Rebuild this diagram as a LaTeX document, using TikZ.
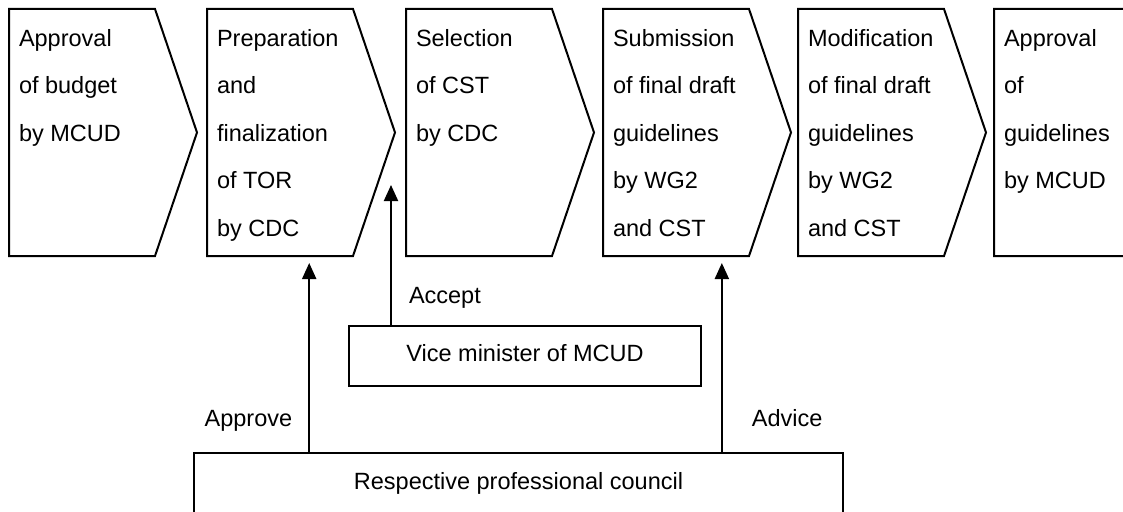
\documentclass[tikz,border=0pt]{standalone}
\usepackage{fontspec}
\setmainfont{Liberation Sans}
\usetikzlibrary{arrows.meta,calc}
\begin{document}
\begin{tikzpicture}[x=1pt,y=-1pt,
  line width=2pt,
  body/.style={anchor=north west, minimum width=146pt, minimum height=247pt, inner sep=0pt, outer sep=0pt},
  chev/.style={draw=black, line join=miter},
  steptxt/.style={anchor=north west, align=left, inner sep=0pt, font=\fontsize{23.5}{47.5}\selectfont},
  boxed/.style={draw=black, inner sep=0pt, outer sep=0pt, font=\fontsize{23.5}{28}\selectfont, text height=17pt},
  lbl/.style={inner sep=0pt, font=\fontsize{23.5}{28}\selectfont},
  arr/.style={-{Triangle[length=16pt,width=14pt]}, line width=2pt}]
\useasboundingbox (0,0) rectangle (1123,511);
\clip (0,0) rectangle (1123,511);
% chevron bodies
\foreach \i/\x in {1/9,2/207,3/406,4/603,5/798,6/994}{
  \node[body] (c\i) at (\x,9) {};
  \draw[chev] (c\i.north west) -- (c\i.north east) -- ($(c\i.east)+(42,0)$) -- (c\i.south east) -- (c\i.south west) -- cycle;
}
% texts
\node[steptxt] (t1) at ($(c1.north west)+(9,16)$) {\rule{0pt}{20pt}Approval\\of budget\\by MCUD};
\node[steptxt] (t2) at ($(c2.north west)+(9,16)$) {\rule{0pt}{20pt}Preparation\\and\\finalization\\of TOR\\by CDC};
\node[steptxt] (t3) at ($(c3.north west)+(9,16)$) {\rule{0pt}{20pt}Selection\\of CST\\by CDC};
\node[steptxt] (t4) at ($(c4.north west)+(9,16)$) {\rule{0pt}{20pt}Submission\\of final draft\\guidelines\\by WG2\\and CST};
\node[steptxt] (t5) at ($(c5.north west)+(9,16)$) {\rule{0pt}{20pt}Modification\\of final draft\\guidelines\\by WG2\\and CST};
\node[steptxt] (t6) at ($(c6.north west)+(9,16)$) {\rule{0pt}{20pt}Approval\\of\\guidelines\\by MCUD};
% bottom boxes
\node[boxed, minimum width=352pt, minimum height=60pt, text depth=7pt] (vice) at (525,356) {Vice minister of MCUD};
\node[boxed, minimum width=649pt, minimum height=72pt, text depth=17pt] (council) at (518.5,489) {Respective professional council};
% connectors
\coordinate (a1) at ($(c2.south west)!0.70!(c2.south east)$);
\coordinate (a2) at ($(c4.south west)!0.814!(c4.south east)$);
\coordinate (acc) at ($(vice.north west)+(42,-141)$);
\draw[arr, shorten >=7pt] (council.north -| a1) -- (a1);
\draw[arr, shorten >=7pt] (council.north -| a2) -- (a2);
\draw[arr] (vice.north -| acc) -- (acc);
% labels
\node[lbl, anchor=base east] (lapprove) at ($(council.north -| a1)+(-16,-27)$) {Approve};
\node[lbl, anchor=base west] (ladvice) at ($(council.north -| a2)+(29,-27)$) {Advice};
\node[lbl, anchor=base west] (laccept) at ($(vice.north -| acc)+(17,-23)$) {Accept};
\end{tikzpicture}
\end{document}
